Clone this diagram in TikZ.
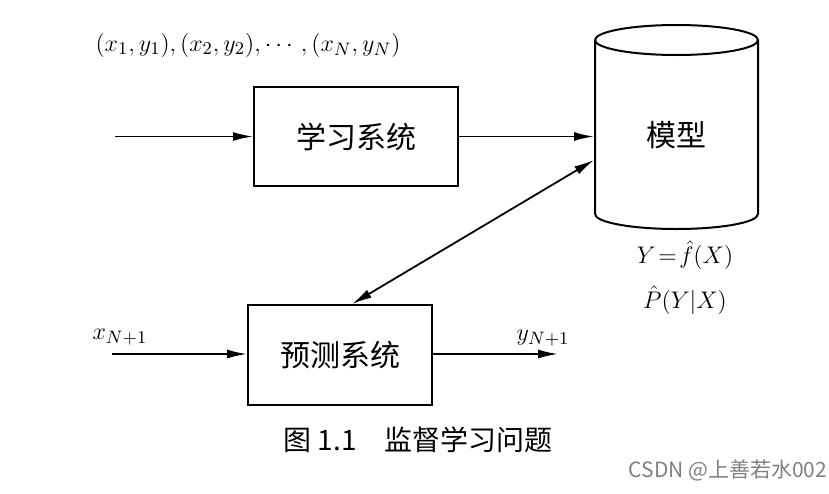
\documentclass[tikz,border=0pt]{standalone}
\usepackage{fontspec}
\usepackage{amsmath}
\newfontfamily\cjk{Noto Sans CJK SC}
\usetikzlibrary{shapes.geometric, arrows.meta, positioning, calc}

\begin{document}
\begin{tikzpicture}[x=0.5pt, y=-0.5pt,
  sysbox/.style={draw, line width=1pt, minimum width=102pt, minimum height=49.5pt, font=\cjk\fontsize{15}{18}\selectfont},
  arr/.style={line width=0.9pt, -{Latex[length=10pt, width=4.5pt]}},
  mathlbl/.style={font=\fontsize{12.5}{15}\selectfont, inner sep=0pt}]
  \useasboundingbox (0,0) rectangle (829,493);

  % Learning system and model
  \node[sysbox] (learn) at (356,136.5) {学习系统};
  \node[draw, line width=1pt, cylinder, shape border rotate=90, aspect=0.5,
    minimum width=81.5pt, minimum height=102pt, inner sep=0pt,
    font=\cjk\fontsize{15}{18}\selectfont] (model) at (676.5,135) {模型};
  \node[mathlbl] (samples) at (248,45) {$(x_1,y_1),(x_2,y_2),\cdots,(x_N,y_N)$};
  \coordinate (trainin) at (115,136.5);
  \draw[arr] (trainin) -- (learn);
  \draw[arr] (learn.east) -- (learn.east -| model.west);

  % Model formulas
  \node[mathlbl] (fhat) at (685,255) {$Y\!=\!\hat{f}(X)$};
  \node[mathlbl] (phat) at (685,300) {$\hat{P}(Y|X)$};

  % Prediction system
  \node[sysbox, minimum width=92pt, minimum height=50pt] (pred) at (340,355) {预测系统};
  \coordinate (xin) at (112,354);
  \coordinate (yout) at (558,354);
  \node[mathlbl] (xlbl) at (120,337) {$x_{N+1}$};
  \node[mathlbl] (ylbl) at (543,338) {$y_{N+1}$};
  \draw[arr] (xin) -- (pred.west |- xin);
  \draw[arr] (pred.east |- yout) -- (yout);
  \draw[arr, {Latex[length=10pt, width=4.5pt]}-{Latex[length=10pt, width=4.5pt]}]
    ([shift={(12,0)}]pred.north) -- ([shift={(0,25)}]model.west);

  % Caption
  \node[font=\cjk\fontsize{14}{17}\selectfont] (caption) at (418,440) {图 1.1\hspace{1em}监督学习问题};
  \node[font=\cjk\fontsize{10.5}{12}\selectfont, text=gray] (mark) at (728,470) {CSDN @上善若水002};
\end{tikzpicture}
\end{document}
